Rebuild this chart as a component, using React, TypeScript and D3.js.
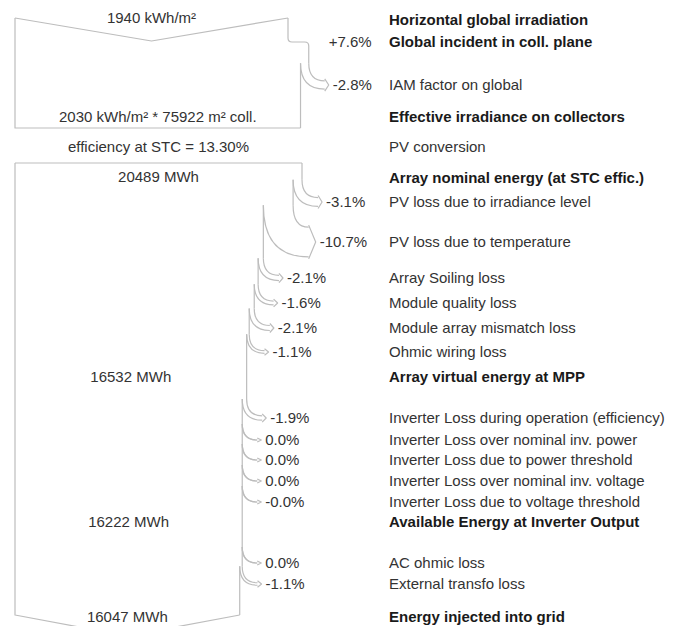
import React from 'react';
import * as d3 from 'd3';

// ---------- data ----------
const rowLabels = [
  'Horizontal global irradiation',
  'Global incident in coll. plane',
  'IAM factor on global',
  'Effective irradiance on collectors',
  'PV conversion',
  'Array nominal energy (at STC effic.)',
  'PV loss due to irradiance level',
  'PV loss due to temperature',
  'Array Soiling loss',
  'Module quality loss',
  'Module array mismatch loss',
  'Ohmic wiring loss',
  'Array virtual energy at MPP',
  'Inverter Loss during operation (efficiency)',
  'Inverter Loss over nominal inv. power',
  'Inverter Loss due to power threshold',
  'Inverter Loss over nominal inv. voltage',
  'Inverter Loss due to voltage threshold',
  'Available Energy at Inverter Output',
  'AC ohmic loss',
  'External transfo loss',
  'Energy injected into grid',
];
const rowBold = [true, true, false, true, false, true, false, false, false, false, false, false, true, false, false, false, false, false, true, false, false, true];
const rowPct: (number | null)[] = [null, 7.6, -2.8, null, null, null, -3.1, -10.7, -2.1, -1.6, -2.1, -1.1, null, -1.9, 0.0, 0.0, 0.0, -0.01, null, 0.0, -1.1, null];

const irradValues = [1940, 2030];
const collectorArea = 75922;
const stcEfficiency = 13.3;
const energyValues = [20489, 16532, 16222, 16047];
const energyRows = [5, 12, 18, 21];

// ---------- layout ----------
const W = 689;
const H = 626;
const LEFT = 15;
const rowY = [20, 42, 85, 117, 147, 178, 202, 242, 278, 303, 328, 352, 377, 418, 440, 460, 481, 502, 522, 563, 584, 617];
const irrRows = [0, 1, 2, 3];
const enRows = [5, 6, 7, 8, 9, 10, 11, 12, 13, 14, 15, 16, 17, 18, 19, 20, 21];
const LABEL_X = 389;
const LINE = '#bdbdbd';
const FONT = '"Liberation Sans", Arial, Helvetica, sans-serif';

function fmtPct(v: number) {
  return (v > 0 ? '+' : '') + v.toFixed(1) + '%';
}

function buildBlock(scale: d3.ScaleLinear<number, number>, startValue: number, topY: number, bottomY: number, rows: number[]) {
  let val = startValue;
  let curX = scale(val);
  let curY = topY;
  const paths: string[] = [];
  const pctLabels: { x: number; y: number; text: string }[] = [];
  for (const i of rows) {
    const pct = rowPct[i];
    if (pct == null) continue;
    const yc = rowY[i];
    const newVal = val * (1 + pct / 100);
    const nx = scale(newVal);
    if (pct > 0) {
      const gy = yc;
      paths.push(`M${curX},${curY}V${gy - 4}`);
      paths.push(`M${curX},${gy - 4}Q${curX},${gy} ${curX + 4},${gy}H${nx - 4}Q${nx},${gy} ${nx},${gy + 4}`);
      pctLabels.push({ x: nx + 20, y: yc, text: fmtPct(pct) });
      curX = nx;
      curY = gy + 4;
    } else {
      const w = curX - nx;
      const hw = w / 2;
      const y0 = yc - 16 - 0.7 * w;
      const tipX = curX + 19 + 0.12 * w;
      const ah = Math.max(4, Math.min(7, w * 0.4));
      const ex = tipX - ah;
      const flare = 2;
      paths.push(`M${curX},${curY}V${y0}`);
      paths.push(`M${curX},${y0}Q${curX},${yc - hw} ${ex},${yc - hw}`);
      paths.push(`M${ex},${yc - hw - flare}L${tipX},${yc}L${ex},${yc + hw + flare}`);
      paths.push(`M${nx},${y0}Q${nx},${yc + hw} ${ex},${yc + hw}`);
      pctLabels.push({ x: tipX + 4, y: yc, text: fmtPct(pct) });
      curX = nx;
      curY = y0;
    }
    val = newVal;
  }
  paths.push(`M${curX},${curY}V${bottomY}`);
  return { paths, pctLabels, endX: curX };
}

export default function App() {
  const xIrr = d3.scaleLinear().domain([0, irradValues[0]]).range([LEFT, 288]);
  const xEn = d3.scaleLinear().domain([0, energyValues[0]]).range([LEFT, 302]);

  const irrTop = 18;
  const irrBottom = 128;
  const enTop = 163;
  const enBottom = 615;

  const irr = buildBlock(xIrr, irradValues[0], irrTop, irrBottom, irrRows);
  const en = buildBlock(xEn, energyValues[0], enTop, enBottom, enRows);

  const irrTopX = xIrr(irradValues[0]);
  const irrApex = (LEFT + irrTopX) / 2;
  const enApex = (LEFT + en.endX) / 2;

  const outline: string[] = [
    `M${LEFT},${irrTop}L${irrApex},${irrTop + 23}L${irrTopX},${irrTop}`,
    `M${LEFT},${irrTop}V${irrBottom}H${irr.endX}`,
    `M${LEFT},${enTop}H${xEn(energyValues[0])}`,
    `M${LEFT},${enTop}V${enBottom}L${enApex},${enBottom + 21}L${en.endX},${enBottom}`,
  ];

  const leftLabels = [
    { x: irrApex, y: 18, text: `${irradValues[0]} kWh/m²` },
    { x: (LEFT + irr.endX) / 2, y: 117, text: `${irradValues[1]} kWh/m² * ${collectorArea} m² coll.` },
    { x: (LEFT + xEn(energyValues[0])) / 2, y: 147, text: `efficiency at STC = ${stcEfficiency.toFixed(2)}%` },
    ...energyValues.map((v, k) => ({
      x: k === 0 ? (LEFT + xEn(v)) / 2 : (LEFT + xEn(v)) / 2,
      y: k === 0 ? 177 : rowY[energyRows[k]],
      text: `${v} MWh`,
    })),
  ];

  return (
    <svg width={W} height={H} style={{ position: 'absolute', left: 0, top: 0, background: '#fff' }} fontFamily={FONT}>
      <rect x={0} y={0} width={W} height={H} fill="#fff" />
      <g fill="none" stroke={LINE} strokeWidth={1.2} strokeLinejoin="round">
        {outline.map((d, i) => <path key={'o' + i} d={d} />)}
        {irr.paths.map((d, i) => <path key={'i' + i} d={d} />)}
        {en.paths.map((d, i) => <path key={'e' + i} d={d} />)}
      </g>
      <g fontSize={15} fill="#333">
        {leftLabels.map((l, i) => (
          <text key={'l' + i} x={l.x} y={l.y + 5} textAnchor="middle">{l.text}</text>
        ))}
        {[...irr.pctLabels, ...en.pctLabels].map((l, i) => (
          <text key={'p' + i} x={l.x} y={l.y + 5}>{l.text}</text>
        ))}
        {rowLabels.map((t, i) => (
          <text key={'r' + i} x={LABEL_X} y={rowY[i] + 5} fontWeight={rowBold[i] ? 'bold' : 'normal'} fill={rowBold[i] ? '#1a1a1a' : '#333'}>{t}</text>
        ))}
      </g>
    </svg>
  );
}
